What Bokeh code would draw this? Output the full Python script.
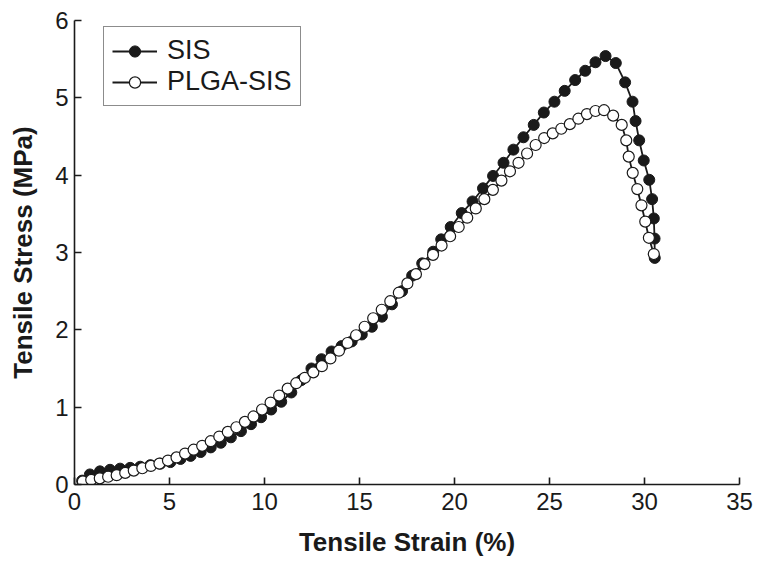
from bokeh.plotting import figure
from bokeh.models import Range1d, FixedTicker, Legend, LegendItem
from bokeh.embed import file_html
from bokeh.resources import INLINE

# ---- data ----
sis_strain = [0.40, 0.81, 1.34, 1.87, 2.40, 2.93, 3.46, 3.99, 4.52, 5.05, 5.58, 6.11, 6.64,
              7.17, 7.70, 8.23, 8.76, 9.29, 9.82, 10.35, 10.88, 11.41, 11.94, 12.47, 13.00,
              13.53, 14.06, 14.59, 15.12, 15.65, 16.18, 16.71, 17.24, 17.77, 18.30, 18.88,
              19.30, 19.80, 20.38, 20.95, 21.50, 22.03, 22.58, 23.10, 23.63, 24.17, 24.70,
              25.26, 25.80, 26.35, 26.88, 27.42, 27.95, 28.49, 28.98, 29.37, 29.53, 29.72,
              29.96, 30.25, 30.40, 30.49, 30.53, 30.54]
sis_stress = [0.05, 0.13, 0.17, 0.19, 0.205, 0.215, 0.23, 0.25, 0.27, 0.29, 0.33, 0.37, 0.42,
              0.48, 0.54, 0.61, 0.69, 0.78, 0.87, 0.97, 1.07, 1.19, 1.35, 1.50, 1.62,
              1.72, 1.79, 1.85, 1.94, 2.04, 2.17, 2.33, 2.50, 2.70, 2.86, 3.01,
              3.17, 3.33, 3.51, 3.66, 3.83, 3.99, 4.16, 4.33, 4.49, 4.65, 4.81,
              4.95, 5.09, 5.23, 5.35, 5.46, 5.54, 5.45, 5.20, 4.95, 4.70, 4.45,
              4.19, 3.94, 3.69, 3.44, 3.18, 2.93]

plga_strain = [0.44, 0.88, 1.33, 1.77, 2.22, 2.67, 3.12, 3.57, 4.02, 4.47, 4.92, 5.37, 5.82,
               6.27, 6.72, 7.17, 7.62, 8.07, 8.52, 8.97, 9.42, 9.87, 10.32, 10.77, 11.22,
               11.67, 12.12, 12.57, 13.02, 13.47, 13.92, 14.37, 14.82, 15.27, 15.72, 16.17,
               16.62, 17.07, 17.52, 17.97, 18.42, 18.87, 19.32, 19.77, 20.22, 20.67, 21.12,
               21.57, 22.02, 22.47, 22.92, 23.37, 23.82, 24.27, 24.72, 25.17, 25.62, 26.07,
               26.52, 26.97, 27.42, 27.87, 28.35, 28.80, 29.04, 29.17, 29.38, 29.62, 29.84,
               30.04, 30.23, 30.49]
plga_stress = [0.04, 0.06, 0.08, 0.10, 0.12, 0.15, 0.18, 0.21, 0.24, 0.27, 0.31, 0.35, 0.40,
               0.45, 0.50, 0.56, 0.62, 0.68, 0.74, 0.81, 0.88, 0.97, 1.06, 1.15, 1.24,
               1.31, 1.38, 1.45, 1.53, 1.63, 1.73, 1.83, 1.93, 2.04, 2.15, 2.26,
               2.37, 2.48, 2.60, 2.72, 2.85, 2.97, 3.09, 3.21, 3.33, 3.45, 3.57,
               3.69, 3.81, 3.93, 4.05, 4.16, 4.28, 4.39, 4.48, 4.54, 4.60, 4.66,
               4.73, 4.79, 4.83, 4.84, 4.77, 4.65, 4.45, 4.24, 4.03, 3.82, 3.61,
               3.40, 3.19, 2.98]

x_ticks = [0, 5, 10, 15, 20, 25, 30, 35]
y_ticks = [0, 1, 2, 3, 4, 5, 6]
x_title = "Tensile Strain (%)"
y_title = "Tensile Stress (MPa)"
labels = ["SIS", "PLGA-SIS"]

FONT = "Liberation Sans"
INK = "#1a1a1a"

p = figure(width=754, height=559, output_backend="svg", toolbar_location=None,
           x_range=Range1d(0, 35), y_range=Range1d(0, 6),
           min_border_left=74, min_border_right=15, min_border_top=20, min_border_bottom=74)
p.outline_line_color = None
p.grid.visible = False
p.background_fill_color = "white"

for ax in (p.xaxis[0], p.yaxis[0]):
    ax.axis_line_color = INK
    ax.axis_line_width = 1.6
    ax.major_tick_line_color = INK
    ax.major_tick_line_width = 1.6
    ax.major_tick_in = 7
    ax.major_tick_out = 0
    ax.minor_tick_line_color = None
    ax.major_label_text_font = FONT
    ax.major_label_text_font_size = "24px"
    ax.major_label_text_color = INK
    ax.axis_label_text_font = FONT
    ax.axis_label_text_font_size = "26px"
    ax.axis_label_text_font_style = "bold"
    ax.axis_label_text_color = INK

p.xaxis.ticker = FixedTicker(ticks=x_ticks)
p.yaxis.ticker = FixedTicker(ticks=y_ticks)
p.xaxis.axis_label = x_title
p.yaxis.axis_label = y_title
p.xaxis.major_label_standoff = 8
p.yaxis.major_label_standoff = 6
p.xaxis.axis_label_standoff = 14
p.yaxis.axis_label_standoff = 14

l1 = p.line(sis_strain, sis_stress, line_color=INK, line_width=1.8)
s1 = p.scatter(sis_strain, sis_stress, size=11, fill_color=INK, line_color=INK, line_width=1)
l2 = p.line(plga_strain, plga_stress, line_color=INK, line_width=1.8)
s2 = p.scatter(plga_strain, plga_stress, size=11, fill_color="white", line_color=INK, line_width=1.2)

legend = Legend(items=[LegendItem(label=labels[0], renderers=[l1, s1]),
                       LegendItem(label=labels[1], renderers=[l2, s2])],
                location=(29, 378))
legend.label_text_font = FONT
legend.label_text_font_size = "27px"
legend.label_text_color = INK
legend.glyph_width = 45
legend.glyph_height = 28
legend.label_standoff = 10
legend.padding = 8
legend.spacing = 0
legend.margin = 0
legend.border_line_color = INK
legend.border_line_width = 1.6
legend.background_fill_color = "white"
legend.background_fill_alpha = 1
p.add_layout(legend, "center")

open("out.html", "w").write(file_html(p, INLINE))
